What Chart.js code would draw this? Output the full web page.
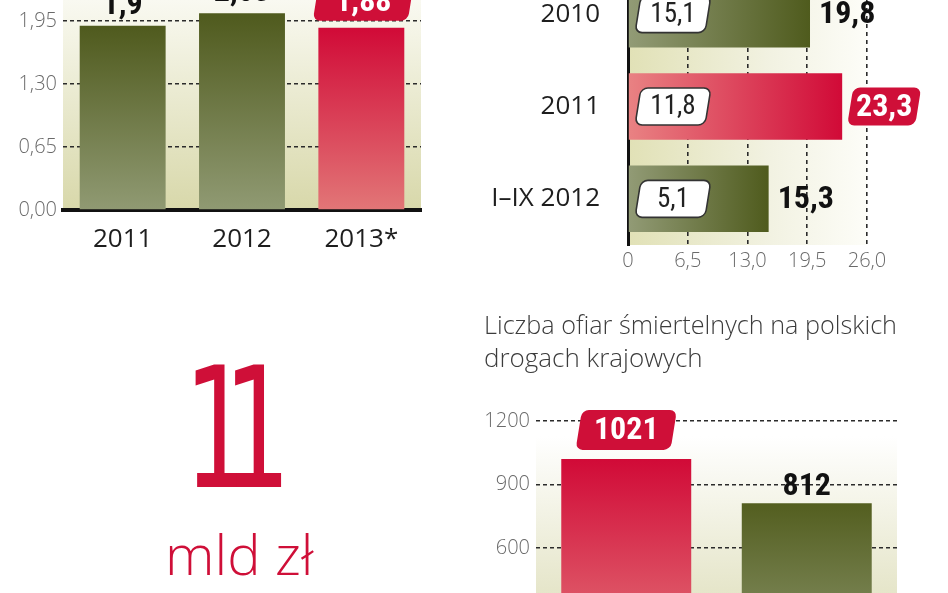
<!DOCTYPE html>
<html>
<head>
<meta charset="utf-8">
<script src="https://cdn.jsdelivr.net/npm/chart.js@4.4.1/dist/chart.umd.min.js"></script>
<style>
  html, body { margin: 0; padding: 0; background: #fff; overflow: hidden; }
  body { width: 948px; height: 593px; position: relative; }
  .wrap { position: absolute; }
  .big { position: absolute; color: #cf0f38; white-space: nowrap; line-height: 1; }
</style>
</head>
<body>
<div class="wrap" style="left:0;top:-60px;width:430px;height:320px"><canvas id="cost-chart"></canvas></div>
<div class="wrap" style="left:470px;top:-60px;width:478px;height:335px"><canvas id="loss-chart"></canvas></div>
<div class="wrap" style="left:460px;top:300px;width:488px;height:420px"><canvas id="death-chart"></canvas></div>
<div class="big" style="left:184px;top:345px;font:400 168px 'DejaVu Sans',sans-serif;line-height:1;letter-spacing:-44px;transform:scaleX(0.63);transform-origin:0 0">11</div>
<div class="big" style="left:165px;top:525px;font:300 56px 'Open Sans',sans-serif;line-height:1">mld zł</div>

<script>
// --- data ---
const costYears = ['2011', '2012', '2013*'];
const costValues = [1.9, 2.03, 1.88];
const costHighlight = 2;

const lossYears = ['2010', '2011', 'I–IX 2012'];
const lossTotal = [19.8, 23.3, 15.3];
const lossInner = [15.1, 11.8, 5.1];
const lossHighlight = 1;

const deathYears = ['2011', '2012'];
const deathValues = [1021, 812];
const deathHighlight = 0;
const deathTitle = ['Liczba ofiar śmiertelnych na polskich', 'drogach krajowych'];

const SANS = "'Open Sans', sans-serif";
const NARROW = "'Liberation Sans Narrow', 'Roboto Condensed', 'Liberation Sans', sans-serif";
const RED = '#cf0f38';
const TICK = '#6a6a6a';

const comma = (v) => String(v).replace('.', ',');

function drawTag(ctx, x, y, w, h, fill, stroke, text, color, font) {
  ctx.save();
  ctx.translate(x, y);
  ctx.save();
  ctx.transform(1, 0, -0.16, 1, 0, 0);
  ctx.beginPath();
  ctx.roundRect(-w / 2, -h / 2, w, h, 7);
  ctx.fillStyle = fill;
  ctx.fill();
  if (stroke) {
    ctx.strokeStyle = stroke;
    ctx.lineWidth = 1.6;
    ctx.stroke();
  }
  ctx.restore();
  ctx.fillStyle = color;
  ctx.font = font;
  ctx.textAlign = 'center';
  ctx.textBaseline = 'middle';
  ctx.fillText(text, 0, 1);
  ctx.restore();
}

// vertical gradient per bar, dark at the top
function vBarFill(dark, light) {
  return (c) => {
    const chart = c.chart;
    if (!chart.chartArea) return dark;
    const y = chart.scales.y;
    const top = y.getPixelForValue(c.raw);
    const g = chart.ctx.createLinearGradient(0, top, 0, y.getPixelForValue(0));
    g.addColorStop(0, dark);
    g.addColorStop(1, light);
    return g;
  };
}

function areaFill(stops, horizontal) {
  return {
    id: 'areaFill',
    beforeDraw(chart) {
      const { ctx, chartArea: a } = chart;
      const g = horizontal
        ? ctx.createLinearGradient(a.left, 0, a.right, 0)
        : ctx.createLinearGradient(0, a.top, 0, a.bottom);
      stops.forEach(([p, col]) => g.addColorStop(p, col));
      ctx.save();
      ctx.fillStyle = g;
      ctx.fillRect(a.left, a.top, a.right - a.left, a.bottom - a.top);
      ctx.restore();
    },
  };
}

const dashGrid = { color: '#2b2b2b', lineWidth: 1.4, drawTicks: false };

// --- chart 1: costs ---
new Chart(document.getElementById('cost-chart'), {
  type: 'bar',
  data: {
    labels: costYears,
    datasets: [{
      data: costValues,
      backgroundColor: (c) => (c.dataIndex === costHighlight
        ? vBarFill('#d10a37', '#e27677')(c)
        : vBarFill('#4f5a1d', '#909a73')(c)),
      borderWidth: 0,
      barPercentage: 0.72,
      categoryPercentage: 1,
    }],
  },
  options: {
    responsive: true,
    maintainAspectRatio: false,
    animation: false,
    layout: { padding: { top: 13, right: 9 } },
    plugins: { legend: { display: false }, tooltip: { enabled: false } },
    scales: {
      x: {
        grid: { display: false },
        border: { display: true, color: '#111', width: 4 },
        ticks: { color: '#1e1e1e', font: { family: SANS, size: 26 }, padding: 6 },
        afterFit(s) { s.height = 50; },
      },
      y: {
        min: 0, max: 2.6,
        z: 1,
        grid: dashGrid,
        border: { display: false, dash: [4, 3] },
        ticks: {
          stepSize: 0.65, color: TICK, padding: 6,
          font: { family: SANS, size: 20, weight: 300 },
          callback: (v) => v.toFixed(2).replace('.', ','),
        },
        afterFit(s) { s.width = 63; },
      },
    },
  },
  plugins: [
    areaFill([[0, '#ffffff'], [0.25, '#f6f6ea'], [1, '#d8d8aa']], false),
    {
      id: 'costLabels',
      afterDraw(chart) {
        const { ctx } = chart;
        chart.getDatasetMeta(0).data.forEach((bar, i) => {
          const txt = comma(costValues[i]);
          if (i === costHighlight) {
            drawTag(ctx, bar.x + 2, bar.y - 7 - 19, 95, 38, RED, null, txt, '#fff', `bold 32px ${NARROW}`);
          } else {
            ctx.save();
            ctx.fillStyle = '#111';
            ctx.font = `bold 32px ${NARROW}`;
            ctx.textAlign = 'center';
            ctx.textBaseline = 'alphabetic';
            ctx.fillText(txt, bar.x, bar.y - 12);
            ctx.restore();
          }
        });
      },
    },
  ],
});

// --- chart 2: losses (horizontal) ---
function hBarFill(c) {
  const chart = c.chart;
  const hi = c.dataIndex === lossHighlight;
  if (!chart.chartArea) return hi ? RED : '#5a6426';
  const x = chart.scales.x;
  const g = chart.ctx.createLinearGradient(x.getPixelForValue(0), 0, x.getPixelForValue(c.raw), 0);
  g.addColorStop(0, hi ? '#e98283' : '#929b76');
  g.addColorStop(1, hi ? '#d10a37' : '#4f5b1d');
  return g;
}

new Chart(document.getElementById('loss-chart'), {
  type: 'bar',
  data: {
    labels: lossYears,
    datasets: [{
      data: lossTotal,
      backgroundColor: hBarFill,
      borderWidth: 0,
      barPercentage: 0.72,
      categoryPercentage: 1,
    }],
  },
  options: {
    indexAxis: 'y',
    responsive: true,
    maintainAspectRatio: false,
    animation: false,
    layout: { padding: { top: 28, right: 81 } },
    plugins: { legend: { display: false }, tooltip: { enabled: false } },
    scales: {
      x: {
        min: 0, max: 26,
        z: 1,
        grid: { ...dashGrid, lineWidth: 1.6 },
        border: { display: false, dash: [4, 4] },
        ticks: {
          stepSize: 6.5, color: TICK, padding: 4,
          font: { family: SANS, size: 20, weight: 300 },
          callback: (v) => (v === 0 ? '0' : v.toFixed(1).replace('.', ',')),
        },
        afterFit(s) { s.height = 30; s.paddingLeft = 0; s.paddingRight = 0; },
      },
      y: {
        grid: { display: false },
        border: { display: true, color: '#111', width: 3 },
        ticks: { color: '#1e1e1e', font: { family: SANS, size: 26 }, padding: 20 },
        afterFit(s) { s.width = 158; s.paddingTop = 0; s.paddingBottom = 0; },
      },
    },
  },
  plugins: [
    areaFill([[0, '#e1e1b6'], [0.6, '#f2f2e2'], [1, '#fdfdf8']], true),
    {
      id: 'lossLabels',
      afterDraw(chart) {
        const { ctx } = chart;
        const x0 = chart.scales.x.getPixelForValue(0);
        chart.getDatasetMeta(0).data.forEach((bar, i) => {
          drawTag(ctx, x0 + 45, bar.y, 70, 37, '#fff', '#333', comma(lossInner[i]), '#222', `27px ${NARROW}`);
          const txt = comma(lossTotal[i]);
          if (i === lossHighlight) {
            drawTag(ctx, bar.x + 8 + 34, bar.y, 68, 38, RED, null, txt, '#fff', `bold 32px ${NARROW}`);
          } else {
            ctx.save();
            ctx.fillStyle = '#111';
            ctx.font = `bold 32px ${NARROW}`;
            ctx.textAlign = 'left';
            ctx.textBaseline = 'middle';
            ctx.fillText(txt, bar.x + 9, bar.y + 1);
            ctx.restore();
          }
        });
      },
    },
  ],
});

// --- chart 3: fatalities ---
new Chart(document.getElementById('death-chart'), {
  type: 'bar',
  data: {
    labels: deathYears,
    datasets: [{
      data: deathValues,
      backgroundColor: (c) => (c.dataIndex === deathHighlight
        ? vBarFill('#d10a37', '#e47c7e')(c)
        : vBarFill('#535e1f', '#909a73')(c)),
      borderWidth: 0,
      barPercentage: 0.72,
      categoryPercentage: 1,
    }],
  },
  options: {
    responsive: true,
    maintainAspectRatio: false,
    animation: false,
    layout: { padding: { left: 24, right: 51 } },
    plugins: {
      legend: { display: false },
      tooltip: { enabled: false },
      title: {
        display: true,
        text: deathTitle,
        align: 'start',
        color: '#3c3c3c',
        font: { family: SANS, size: 26, weight: 300, lineHeight: 1.27 },
        padding: { top: 10, bottom: 45 },
      },
    },
    scales: {
      x: {
        grid: { display: false },
        border: { display: true, color: '#111', width: 3 },
        ticks: { color: '#1e1e1e', font: { family: SANS, size: 26 }, padding: 12 },
        afterFit(s) { s.height = 45; },
      },
      y: {
        min: 0, max: 1200,
        z: 1,
        grid: dashGrid,
        border: { display: false, dash: [4, 3] },
        ticks: {
          stepSize: 300, color: TICK, padding: 6,
          font: { family: SANS, size: 20, weight: 300 },
          callback: (v) => String(v),
        },
        afterFit(s) { s.width = 52; },
      },
    },
  },
  plugins: [
    areaFill([[0, '#ffffff'], [0.06, '#ffffff'], [1, '#d8d8ad']], false),
    {
      id: 'deathLabels',
      afterDraw(chart) {
        const { ctx } = chart;
        chart.getDatasetMeta(0).data.forEach((bar, i) => {
          const txt = String(deathValues[i]);
          if (i === deathHighlight) {
            drawTag(ctx, bar.x, bar.y - 9 - 20, 95, 40, RED, null, txt, '#fff', `bold 32px ${NARROW}`);
          } else {
            ctx.save();
            ctx.fillStyle = '#111';
            ctx.font = `bold 32px ${NARROW}`;
            ctx.textAlign = 'center';
            ctx.textBaseline = 'alphabetic';
            ctx.fillText(txt, bar.x, bar.y - 8);
            ctx.restore();
          }
        });
      },
    },
  ],
});
</script>
</body>
</html>
